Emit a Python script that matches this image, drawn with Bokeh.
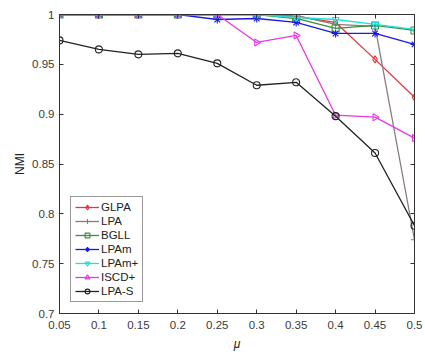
import numpy as np
from bokeh.plotting import figure
from bokeh.models import FixedTicker, LinearAxis, Range1d, Legend
from bokeh.embed import file_html
from bokeh.resources import INLINE

mu = [0.05, 0.1, 0.15, 0.2, 0.25, 0.3, 0.35, 0.4, 0.45, 0.5]
glpa = [1.0, 1.0, 1.0, 1.0, 1.0, 1.0, 0.998, 0.992, 0.955, 0.917]
lpa = [1.0, 1.0, 1.0, 1.0, 1.0, 1.0, 0.999, 0.990, 0.988, 0.774]
bgll = [1.0, 1.0, 1.0, 1.0, 1.0, 1.0, 0.996, 0.986, 0.989, 0.984]
lpam = [1.0, 1.0, 1.0, 1.0, 0.995, 0.996, 0.992, 0.981, 0.981, 0.970]
lpamp = [1.0, 1.0, 1.0, 1.0, 1.0, 1.0, 0.997, 0.995, 0.990, 0.985]
iscd = [1.0, 1.0, 1.0, 1.0, 1.0, 0.972, 0.979, 0.899, 0.897, 0.876]
lpas = [0.974, 0.965, 0.960, 0.961, 0.951, 0.929, 0.932, 0.898, 0.861, 0.788]

x_ticks = [0.05, 0.1, 0.15, 0.2, 0.25, 0.3, 0.35, 0.4, 0.45, 0.5]
x_labels = ["0.05", "0.1", "0.15", "0.2", "0.25", "0.3", "0.35", "0.4", "0.45", "0.5"]
y_ticks = [0.7, 0.75, 0.8, 0.85, 0.9, 0.95, 1.0]
y_labels = ["0.7", "0.75", "0.8", "0.85", "0.9", "0.95", "1"]

series = [
    ("GLPA", glpa, "#e8353c", "diamond", 0.0),
    ("LPA", lpa, "#8a7a80", "cross", 0.0),
    ("BGLL", bgll, "#3a8f3a", "square", 0.0),
    ("LPAm", lpam, "#1a1ae6", "asterisk", 0.0),
    ("LPAm+", lpamp, "#22e0d8", "inverted_triangle", 0.0),
    ("ISCD+", iscd, "#e63ae6", "triangle", -np.pi / 2),
    ("LPA-S", lpas, "#222222", "circle", 0.0),
]

p = figure(frame_width=355, frame_height=299, output_backend="svg", toolbar_location=None,
           x_range=Range1d(0.05, 0.5), y_range=Range1d(0.7, 1.0),
           min_border_left=59, min_border_top=14, min_border_right=9, min_border_bottom=10)
p.background_fill_color = "white"
p.border_fill_color = "white"
p.outline_line_color = "#333333"
p.grid.visible = False

font = "Liberation Sans"
for ax in (p.xaxis[0], p.yaxis[0]):
    ax.major_tick_in = 4
    ax.major_tick_out = 0
    ax.minor_tick_in = 0
    ax.minor_tick_out = 0
    ax.axis_line_color = "#333333"
    ax.major_tick_line_color = "#333333"
    ax.major_label_text_font = font
    ax.major_label_text_font_size = "11.5px"
    ax.major_label_text_color = "#3a3a3a"
    ax.axis_label_text_font = font
    ax.axis_label_text_font_style = "normal"
    ax.axis_label_text_color = "#222222"

p.xaxis[0].ticker = FixedTicker(ticks=x_ticks)
p.xaxis[0].major_label_overrides = dict(zip(x_ticks, x_labels))
p.yaxis[0].ticker = FixedTicker(ticks=y_ticks)
p.yaxis[0].major_label_overrides = dict(zip(y_ticks, y_labels))
p.xaxis[0].axis_label = "\u03bc"
p.xaxis[0].axis_label_text_font_style = "italic"
p.xaxis[0].axis_label_text_font_size = "12px"
p.xaxis[0].axis_label_standoff = 5
p.xaxis[0].major_label_standoff = 7
p.yaxis[0].axis_label = "NMI"
p.yaxis[0].axis_label_text_font_size = "12px"
p.yaxis[0].axis_label_standoff = 2
p.yaxis[0].major_label_standoff = 5

top = LinearAxis(ticker=FixedTicker(ticks=x_ticks), major_label_text_font_size="0px",
                 major_tick_in=4, major_tick_out=0, minor_tick_in=0, minor_tick_out=0,
                 axis_line_color="#333333", major_tick_line_color="#333333", major_label_standoff=0)
right = LinearAxis(ticker=FixedTicker(ticks=y_ticks), major_label_text_font_size="0px",
                   major_tick_in=4, major_tick_out=0, minor_tick_in=0, minor_tick_out=0,
                   axis_line_color="#333333", major_tick_line_color="#333333", major_label_standoff=0)
top.major_label_overrides = {t: "" for t in x_ticks}
right.major_label_overrides = {t: "" for t in y_ticks}
p.add_layout(top, "above")
p.add_layout(right, "right")

items = []
for name, ys, col, mk, ang in series:
    p.line(mu, ys, line_color=col, line_width=1.3)
    p.scatter(mu, ys, marker=mk, size=7 if mk != "asterisk" else 8, angle=ang,
              line_color=col, fill_color=None, line_width=1.1)
    # legend-only glyphs (smaller markers, as in the reference legend)
    ll = p.line([np.nan], [np.nan], line_color=col, line_width=1.3)
    ls = p.scatter([np.nan], [np.nan], marker=mk, size=5 if mk != "asterisk" else 7, angle=ang,
                   line_color=col, fill_color=None, line_width=1.1)
    items.append((name, [ll, ls]))

legend = Legend(items=items, location=(11, 11))
legend.label_text_font = font
legend.label_text_font_size = "11.5px"
legend.label_text_color = "#222222"
legend.glyph_width = 24
legend.glyph_height = 12
legend.label_height = 12
legend.spacing = 2
legend.padding = 4
legend.margin = 0
legend.label_standoff = 2
legend.border_line_color = "#333333"
legend.border_line_width = 1
legend.background_fill_alpha = 1.0
p.add_layout(legend, "center")

open("out.html", "w").write(file_html(p, INLINE))
